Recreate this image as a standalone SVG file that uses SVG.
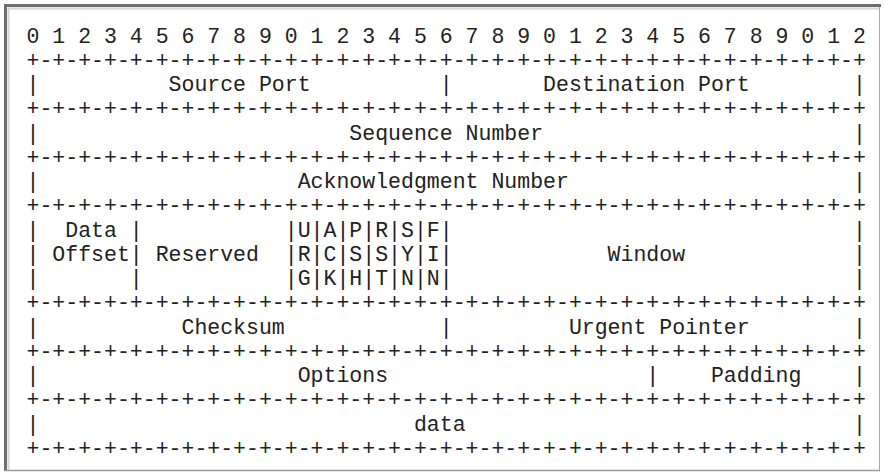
<svg xmlns="http://www.w3.org/2000/svg" width="885" height="474" viewBox="0 0 885 474" xml:space="preserve">
<style>
  .t { font-family: "Liberation Mono", "DejaVu Sans Mono", monospace; font-size: 21.52px; fill: #222; white-space: pre; }
</style>
<rect x="0" y="0" width="885" height="474" fill="#ffffff"/>
<g id="frame">
  <rect x="5.5" y="5.5" width="874" height="465" fill="#ffffff" stroke="#a8a8a8" stroke-width="1"/>
  <line x1="4" y1="5.5" x2="881" y2="5.5" stroke="#6e6e6e" stroke-width="3"/>
  <line x1="5.5" y1="4" x2="5.5" y2="471" stroke="#6e6e6e" stroke-width="3"/>
  <line x1="8" y1="8.5" x2="879" y2="8.5" stroke="#d6d6d6" stroke-width="2"/>
  <line x1="8.5" y1="8" x2="8.5" y2="470" stroke="#d6d6d6" stroke-width="2"/>
  <line x1="5" y1="470.5" x2="880" y2="470.5" stroke="#9a9a9a" stroke-width="1.5"/>
</g>
<g id="ruler">
  <text class="t" x="26.5" y="42.5" textLength="839.4" lengthAdjust="spacing">0 1 2 3 4 5 6 7 8 9 0 1 2 3 4 5 6 7 8 9 0 1 2 3 4 5 6 7 8 9 0 1 2</text>
</g>
<g id="connectors">
  <text class="t" x="26.5" y="66.75" textLength="839.4" lengthAdjust="spacing">+-+-+-+-+-+-+-+-+-+-+-+-+-+-+-+-+-+-+-+-+-+-+-+-+-+-+-+-+-+-+-+-+</text>
  <text class="t" x="26.5" y="115.25" textLength="839.4" lengthAdjust="spacing">+-+-+-+-+-+-+-+-+-+-+-+-+-+-+-+-+-+-+-+-+-+-+-+-+-+-+-+-+-+-+-+-+</text>
  <text class="t" x="26.5" y="163.75" textLength="839.4" lengthAdjust="spacing">+-+-+-+-+-+-+-+-+-+-+-+-+-+-+-+-+-+-+-+-+-+-+-+-+-+-+-+-+-+-+-+-+</text>
  <text class="t" x="26.5" y="212.25" textLength="839.4" lengthAdjust="spacing">+-+-+-+-+-+-+-+-+-+-+-+-+-+-+-+-+-+-+-+-+-+-+-+-+-+-+-+-+-+-+-+-+</text>
  <text class="t" x="26.5" y="309.25" textLength="839.4" lengthAdjust="spacing">+-+-+-+-+-+-+-+-+-+-+-+-+-+-+-+-+-+-+-+-+-+-+-+-+-+-+-+-+-+-+-+-+</text>
  <text class="t" x="26.5" y="357.75" textLength="839.4" lengthAdjust="spacing">+-+-+-+-+-+-+-+-+-+-+-+-+-+-+-+-+-+-+-+-+-+-+-+-+-+-+-+-+-+-+-+-+</text>
  <text class="t" x="26.5" y="406.25" textLength="839.4" lengthAdjust="spacing">+-+-+-+-+-+-+-+-+-+-+-+-+-+-+-+-+-+-+-+-+-+-+-+-+-+-+-+-+-+-+-+-+</text>
  <text class="t" x="26.5" y="454.75" textLength="839.4" lengthAdjust="spacing">+-+-+-+-+-+-+-+-+-+-+-+-+-+-+-+-+-+-+-+-+-+-+-+-+-+-+-+-+-+-+-+-+</text>
</g>
<g id="row-ports">
  <text class="t" x="26.5" y="91" textLength="839.4" lengthAdjust="spacing">|          Source Port          |       Destination Port        |</text>
</g>
<g id="row-sequence">
  <text class="t" x="26.5" y="139.5" textLength="839.4" lengthAdjust="spacing">|                        Sequence Number                        |</text>
</g>
<g id="row-ack">
  <text class="t" x="26.5" y="188" textLength="839.4" lengthAdjust="spacing">|                    Acknowledgment Number                      |</text>
</g>
<g id="row-flags">
  <text class="t" x="26.5" y="236.5" textLength="839.4" lengthAdjust="spacing">|  Data |           |U|A|P|R|S|F|                               |</text>
  <text class="t" x="26.5" y="260.75" textLength="839.4" lengthAdjust="spacing">| Offset| Reserved  |R|C|S|S|Y|I|            Window             |</text>
  <text class="t" x="26.5" y="285" textLength="839.4" lengthAdjust="spacing">|       |           |G|K|H|T|N|N|                               |</text>
</g>
<g id="row-checksum">
  <text class="t" x="26.5" y="333.5" textLength="839.4" lengthAdjust="spacing">|           Checksum            |         Urgent Pointer        |</text>
</g>
<g id="row-options">
  <text class="t" x="26.5" y="382" textLength="839.4" lengthAdjust="spacing">|                    Options                    |    Padding    |</text>
</g>
<g id="row-data">
  <text class="t" x="26.5" y="430.5" textLength="839.4" lengthAdjust="spacing">|                             data                              |</text>
</g>
</svg>
